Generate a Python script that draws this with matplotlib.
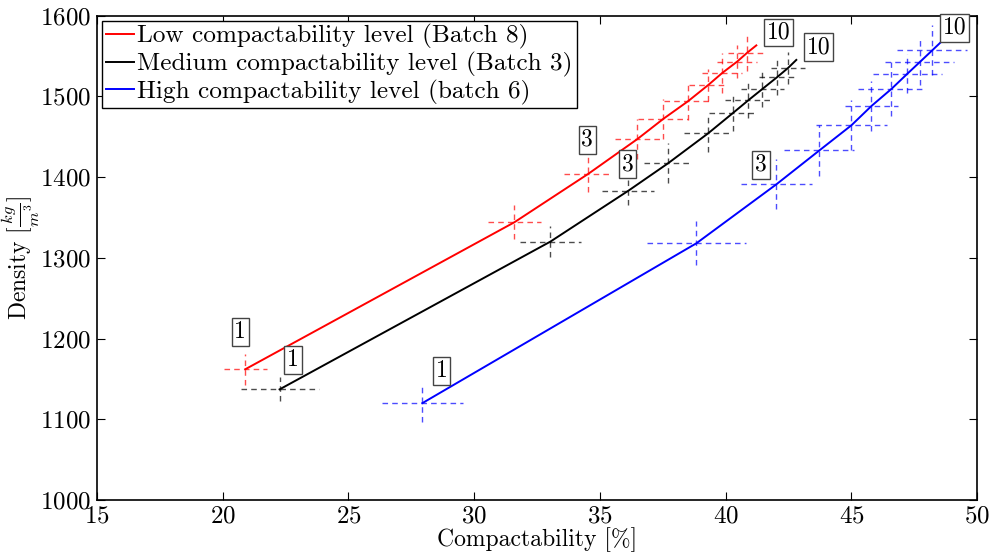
import numpy as np
import matplotlib.pyplot as plt

plt.rcParams['font.family'] = ['cmr10', 'DejaVu Serif']
plt.rcParams['mathtext.fontset'] = 'cm'
plt.rcParams['axes.formatter.use_mathtext'] = True

# measured points (compactability %, density kg/m3) with errors
low_x = [20.90, 31.60, 34.54, 36.49, 37.52, 38.51, 39.31, 39.87, 40.46, 40.86]
low_y = [1162, 1344, 1404, 1447, 1472, 1494, 1514, 1529, 1543, 1554]
low_xerr = [0.86, 1.04, 0.96, 0.90, 1.00, 0.96, 0.76, 0.80, 0.80, 0.76]
low_yerr = [19, 21, 23, 25, 25, 24, 20, 25, 20, 23]

med_x = [22.26, 33.03, 36.13, 37.71, 39.30, 40.28, 40.90, 41.46, 42.06, 42.48]
med_y = [1137, 1320, 1383, 1417, 1454, 1479, 1495, 1509, 1524, 1535]
med_xerr = [1.55, 1.20, 1.04, 0.96, 0.96, 0.93, 0.93, 0.85, 0.73, 0.66]
med_yerr = [15, 19, 18, 25, 23, 22, 22, 22, 22, 20]

high_x = [27.94, 38.84, 42.02, 43.73, 45.00, 45.80, 46.59, 47.23, 47.71, 48.22]
high_y = [1120, 1318, 1391, 1433, 1464, 1488, 1509, 1528, 1542, 1557]
high_xerr = [1.60, 1.97, 1.41, 1.39, 1.40, 1.04, 1.31, 1.37, 1.37, 1.39]
high_yerr = [24, 27, 31, 32, 31, 31, 33, 24, 28, 31]

# fitted curves (run slightly past last point)
low_curve_x = low_x + [41.22]
low_curve_y = low_y + [1563]
med_curve_x = med_x + [42.81]
med_curve_y = med_y + [1545]
high_curve_x = high_x + [48.66]
high_curve_y = high_y + [1570]

# batch step labels: (text, x, y)
low_labels = [("1", 20.7, 1208), ("3", 34.5, 1446), ("10", 42.1, 1579)]
med_labels = [("1", 22.8, 1173), ("3", 36.1, 1416), ("10", 43.7, 1561)]
high_labels = [("1", 28.7, 1160), ("3", 41.4, 1415), ("10", 49.1, 1585)]

series = [
    ("Low compactability level (Batch 8)", "red", low_x, low_y, low_xerr, low_yerr,
     low_curve_x, low_curve_y, low_labels),
    ("Medium compactability level (Batch 3)", "black", med_x, med_y, med_xerr, med_yerr,
     med_curve_x, med_curve_y, med_labels),
    ("High compactability level (batch 6)", "blue", high_x, high_y, high_xerr, high_yerr,
     high_curve_x, high_curve_y, high_labels),
]

fig = plt.figure(figsize=(9.94, 5.56), dpi=100)
ax = fig.add_axes([0.0976, 0.1007, 0.8854, 0.8714])

for name, col, x, y, xe, ye, cx, cy, labels in series:
    eb = ax.errorbar(x, y, xerr=xe, yerr=ye, fmt='none', ecolor=col,
                     elinewidth=1.0, alpha=0.7, capsize=0)
    for lc in eb[2]:
        lc.set_linestyle((0, (4, 3)))
    ax.plot(cx, cy, color=col, lw=1.4, label=name)
    for txt, tx, ty in labels:
        ax.text(tx, ty, txt, fontsize=17, ha='center', va='center',
                bbox=dict(boxstyle='square,pad=0.12', fc='white', ec='#444444', lw=1.0))

ax.set_xlim(15, 50)
ax.set_ylim(1000, 1600)
ax.set_xticks(np.arange(15, 51, 5))
ax.set_yticks(np.arange(1000, 1601, 100))
ax.tick_params(direction='in', top=True, right=True, length=6, labelsize=18, pad=4)
for s in ax.spines.values():
    s.set_linewidth(1.2)

ax.set_xlabel("Compactability [%]", fontsize=17, labelpad=0)
ax.set_ylabel(r"Density $[\frac{kg}{m^3}]$", fontsize=17)
ax.yaxis.set_label_coords(-0.062, 0.5)

leg = ax.legend(loc='upper left', fontsize=18.2, handlelength=1.1, handletextpad=0.15,
                labelspacing=0.1, borderpad=0.15, borderaxespad=0.2,
                fancybox=False, framealpha=1, edgecolor='black')
leg.get_frame().set_linewidth(1.0)

fig.savefig("out.png", dpi=100)
